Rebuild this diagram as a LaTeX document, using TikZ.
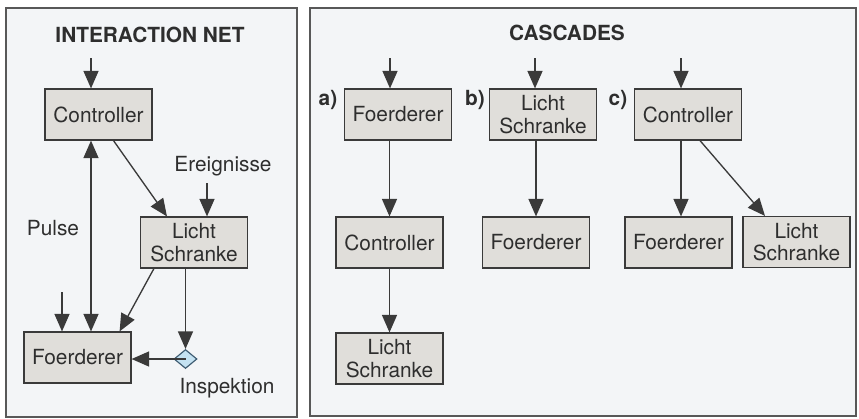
\documentclass[tikz,border=0pt]{standalone}
\usepackage{fontspec}
\setmainfont{TeX Gyre Heros}
\usepackage{tikz}
\usetikzlibrary{arrows.meta,shapes.geometric}

\definecolor{linegray}{HTML}{3A3A3A}
\definecolor{textgray}{HTML}{2E2E2E}
\definecolor{boxgray}{HTML}{E0DEDA}
\definecolor{panelbg}{HTML}{F3F5F7}
\definecolor{diafill}{HTML}{C4E2F2}
\definecolor{diadraw}{HTML}{3E5C72}

\begin{document}
\begin{tikzpicture}[x=0.6pt, y=-0.6pt, text=textgray,
	font=\fontsize{12.5}{13.5}\selectfont,
	box/.style={draw=linegray, fill=boxgray, line width=0.7pt, minimum width=64.2pt, minimum height=30.6pt, align=center, inner sep=2pt},
	head/.style={font=\fontsize{12.5}{13.5}\selectfont\bfseries},
	panel/.style={draw=linegray!85, fill=panelbg, line width=0.7pt},
	>={Triangle[length=10.5pt,width=9pt]},
	every edge/.style={draw=linegray, line width=0.8pt}]
\useasboundingbox[fill=white] (0,0) rectangle (859,418);
\path[panel] (6,8) rectangle (297,417);
\path[panel] (310,8) rectangle (856,416);

% interaction net
\node[head] (tnet) at (150,35) {INTERACTION NET};
\node[box] (ctrl) at (98.5,114.5) {Controller};
\node[box] (li) at (194,242.5) {Licht\\Schranke};
\node[box] (fo) at (77.5,357.5) {Foerderer};
\node[diamond, draw=diadraw, fill=diafill, line width=0.7pt, inner sep=0pt, minimum width=13.8pt, minimum height=11.4pt] (dia) at (185.5,359) {};
\node (ev) at (223,166) {Ereignisse};
\node (pulse) at (53,228) {Pulse};
\node (insp) at (227,388) {Inspektion};
\coordinate (inC) at (91,58);
\coordinate (inL) at (207,183);
\coordinate (inF) at (62,292);
\path[->]
(inC) edge (inC |- ctrl.north)
(inL) edge (inL |- li.north)
(inF) edge (inF |- fo.north)
([xshift=9pt]ctrl.south) edge ([xshift=-16.2pt]li.north)
([xshift=8.4pt]li.south west) edge ([xshift=-7.2pt]fo.north east)
(dia |- li.south) edge (dia.north)
(dia.center) edge (dia.center -| fo.east)
;
\path[<->] (inC |- ctrl.south) edge (inC |- fo.north);

% cascades
\node[head] (tcas) at (567,33) {CASCADES};
\node[head] (lblA) at (328,100) {a)};
\node[head] (lblB) at (475,100) {b)};
\node[head] (lblC) at (618,100) {c)};
\node[box] (aF) at (398,114.5) {Foerderer};
\node[box] (aC) at (389.5,242.5) {Controller};
\node[box] (aL) at (389.5,358.5) {Licht\\Schranke};
\node[box] (bL) at (543,114.5) {Licht\\Schranke};
\node[box] (bF) at (536,242.5) {Foerderer};
\node[box] (cC) at (688,114.5) {Controller};
\node[box] (cF) at (678.5,242.5) {Foerderer};
\node[box] (cL) at (796.5,242) {Licht\\Schranke};
\coordinate (inA) at (390,58);
\coordinate (inB) at (535,58);
\coordinate (inCc) at (681,58);
\path[->]
(inA) edge (inA |- aF.north)
(aC |- aF.south) edge (aC.north)
(aC) edge (aL)
(inB) edge (inB |- bL.north)
(bF |- bL.south) edge (bF.north)
(inCc) edge (inCc |- cC.north)
(inCc |- cC.south) edge (inCc |- cF.north)
([xshift=7.2pt]cC.south) edge ([xshift=-18.9pt]cL.north)
;
\end{tikzpicture}
\end{document}
